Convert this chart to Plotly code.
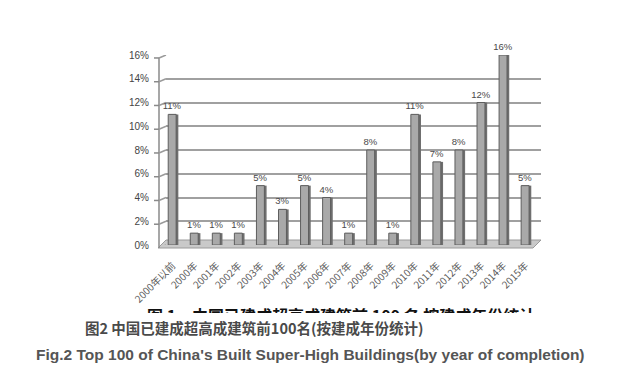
import plotly.graph_objects as go

categories = ["2000年以前", "2000年", "2001年", "2002年", "2003年", "2004年", "2005年",
              "2006年", "2007年", "2008年", "2009年", "2010年", "2011年", "2012年",
              "2013年", "2014年", "2015年"]
values = [11, 1, 1, 1, 5, 3, 5, 4, 1, 8, 1, 11, 7, 8, 12, 16, 5]
y_ticks = [0, 2, 4, 6, 8, 10, 12, 14, 16]
y_tick_labels = [f"{v}%" for v in y_ticks]
bar_labels = [f"{v}%" for v in values]

# page body has an 8px margin; compensate so the picture lands where intended
OX, OY = 8, 8
W, H = 625 - OX, 375 - OY
def px(x):
    return (x - OX) / W
def py(y):
    return 1 - (y - OY) / H

FONT = "Liberation Sans, Arial, Noto Sans CJK SC, sans-serif"

fig = go.Figure()

# shadow / side of bars (3D look)
fig.add_trace(go.Bar(
    x=categories, y=values, width=0.42, offset=-0.16,
    marker=dict(color="#6f6f6f", line=dict(width=0)),
    hoverinfo="skip", showlegend=False,
))
# front of bars
fig.add_trace(go.Bar(
    x=categories, y=values, width=0.36, offset=-0.2,
    marker=dict(color="#a9a9a9", line=dict(color="#5e5e5e", width=1)),
    text=bar_labels, textposition="outside", cliponaxis=False, constraintext="none",
    textfont=dict(size=9.5, color="#4a4a4a", family=FONT),
    showlegend=False,
))

# clipped title remnant in a second subplot
fig.add_trace(go.Scatter(
    x=[0.54], y=[-0.35], mode="text",
    text=["<b>图 1　中国已建成超高成建筑前 100 名 按建成年份统计</b>"],
    textfont=dict(size=16, color="#111111", family="Noto Sans CJK SC"),
    xaxis="x2", yaxis="y2", cliponaxis=True, showlegend=False, hoverinfo="skip",
))

shapes = []
# floor
shapes.append(dict(type="path", xref="paper", yref="paper", layer="below",
                   path=f"M {px(158)},{py(248)} L {px(533)},{py(248)} L {px(541)},{py(240)} L {px(166)},{py(240)} Z",
                   fillcolor="#c9c9c9", line=dict(color="#9a9a9a", width=1)))
# left axis line
shapes.append(dict(type="line", xref="paper", yref="paper", layer="below",
                   x0=px(159), y0=py(248), x1=px(159), y1=py(58),
                   line=dict(color="#8a8a8a", width=1.5)))
# gridline left diagonals and ticks
for v in y_ticks:
    shapes.append(dict(type="line", xref="paper", yref="y", layer="below",
                       x0=px(159), y0=v - 0.25, x1=px(166), y1=v,
                       line=dict(color="#9a9a9a", width=1.5)))
    shapes.append(dict(type="line", xref="paper", yref="y", layer="below",
                       x0=px(154), y0=v - 0.25, x1=px(159), y1=v - 0.25,
                       line=dict(color="#8a8a8a", width=1.5)))

fig.update_layout(
    width=W, height=H,
    margin=dict(l=0, r=0, t=0, b=0, autoexpand=False),
    paper_bgcolor="white", plot_bgcolor="rgba(0,0,0,0)",
    barmode="overlay",
    font=dict(family=FONT, color="#444444"),
    shapes=shapes,
    xaxis=dict(
        domain=[px(166), px(541)],
        range=[-0.3, 16.7], automargin=False,
        tickangle=-45, tickfont=dict(size=10, color="#5a5a5a", family="Noto Sans CJK SC"),
        showgrid=False, showline=False, zeroline=False, ticks="",
        ticklabelstandoff=12,
    ),
    yaxis=dict(
        domain=[py(245), py(55)],
        range=[0, 16], automargin=False,
        tickvals=y_ticks, ticktext=y_tick_labels,
        tickfont=dict(size=10, color="#444444", family=FONT),
        showgrid=True, gridcolor="#a0a0a0", gridwidth=1.5,
        zeroline=False, showline=False, ticks="",
        ticklabelstandoff=16,
    ),
    xaxis2=dict(domain=[0, 1], range=[0, 1], visible=False, anchor="y2", automargin=False),
    yaxis2=dict(domain=[py(313), py(298)], range=[0, 1], visible=False, anchor="x2", automargin=False),
    annotations=[
        dict(xref="paper", yref="paper", x=px(83), y=py(327), xanchor="left", yanchor="middle",
             text="<b>图2 中国已建成超高成建筑前100名(按建成年份统计)</b>", showarrow=False,
             font=dict(size=14.5, color="#4a4a4a", family="Noto Sans CJK SC")),
        dict(xref="paper", yref="paper", x=px(34), y=py(354), xanchor="left", yanchor="middle",
             text="<b>Fig.2 Top 100 of China's Built Super-High Buildings(by year of completion)</b>",
             showarrow=False,
             font=dict(size=15.5, color="#555555", family="Liberation Sans, Arial")),
    ],
)

fig.write_html("out.html")
